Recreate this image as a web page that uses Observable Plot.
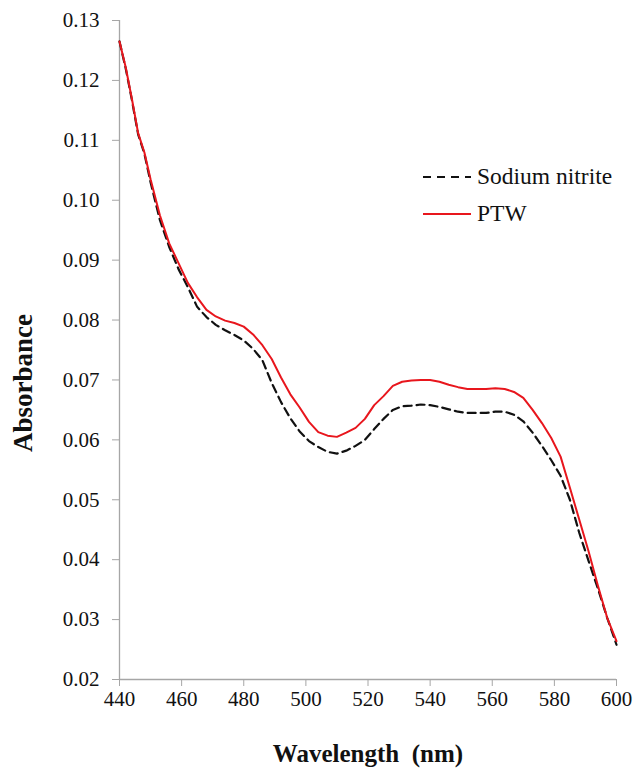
<!DOCTYPE html>
<html>
<head>
<meta charset="utf-8">
<script src="https://cdn.jsdelivr.net/npm/d3@7"></script>
<script src="https://cdn.jsdelivr.net/npm/@observablehq/plot@0.6"></script>
<style>
  body { margin: 0; background: #fff; }
  #wrap { position: relative; width: 636px; height: 769px; font-family: "Liberation Serif", "Tinos", "Times New Roman", "Times", "Nimbus Roman", "Nimbus Roman No9 L", "FreeSerif", "Noto Serif", "DejaVu Serif", serif; }
  #wrap svg text { font-family: "Liberation Serif", "Tinos", "Times New Roman", "Times", "Nimbus Roman", "Nimbus Roman No9 L", "FreeSerif", "Noto Serif", "DejaVu Serif", serif; }
  #legend { position: absolute; left: 423px; top: 158px; font-size: 23.5px; color: #111; line-height: 37px; }
  #legend .item { display: flex; align-items: center; }
  #legend svg { margin-right: 6px; }
</style>
</head>
<body>
<div id="wrap"></div>
<script>
const wavelengths = [440, 442, 444, 446, 448, 450, 453, 456, 459, 462, 465, 468, 471, 474, 477, 480, 483, 486, 489, 492, 495, 498, 501, 504, 507, 510, 513, 516, 519, 522, 525, 528, 531, 534, 537, 540, 543, 546, 549, 552, 555, 558, 561, 564, 567, 570, 573, 576, 579, 582, 585, 588, 591, 594, 597, 600];
const ptw = [0.1265, 0.1222, 0.1169, 0.1112, 0.1080, 0.1035, 0.0975, 0.0928, 0.0895, 0.0862, 0.0838, 0.0817, 0.0806, 0.0799, 0.0795, 0.0789, 0.0776, 0.0758, 0.0735, 0.0704, 0.0676, 0.0654, 0.0630, 0.0613, 0.0607, 0.0605, 0.0612, 0.0620, 0.0635, 0.0658, 0.0673, 0.0690, 0.0697, 0.0699, 0.0700, 0.0700, 0.0697, 0.0692, 0.0688, 0.0685, 0.0685, 0.0685, 0.0686, 0.0685, 0.0680, 0.0670, 0.0650, 0.0628, 0.0603, 0.0572, 0.0520, 0.0467, 0.0414, 0.0357, 0.0303, 0.0264];
const sodiumNitrite = [0.1265, 0.1220, 0.1167, 0.1110, 0.1078, 0.1030, 0.0967, 0.0922, 0.0885, 0.0855, 0.0822, 0.0805, 0.0792, 0.0783, 0.0775, 0.0766, 0.0752, 0.0733, 0.0695, 0.0663, 0.0636, 0.0614, 0.0598, 0.0588, 0.0580, 0.0577, 0.0582, 0.0590, 0.0600, 0.0618, 0.0635, 0.0650, 0.0656, 0.0657, 0.0659, 0.0658, 0.0655, 0.0651, 0.0647, 0.0645, 0.0645, 0.0645, 0.0647, 0.0647, 0.0642, 0.0631, 0.0612, 0.0590, 0.0566, 0.0540, 0.0500, 0.0445, 0.0398, 0.0352, 0.0303, 0.0258];
const seriesNames = ["Sodium nitrite", "PTW"];
const xTicks = [440, 460, 480, 500, 520, 540, 560, 580, 600];
const yTicks = [0.02, 0.03, 0.04, 0.05, 0.06, 0.07, 0.08, 0.09, 0.10, 0.11, 0.12, 0.13];
const xLabel = "Wavelength  (nm)";
const yLabel = "Absorbance";

const RED = "#e8161d";
const AXIS = "#a6a6a6";

const nitriteData = wavelengths.map((w, i) => ({w, a: sodiumNitrite[i]}));
const ptwData = wavelengths.map((w, i) => ({w, a: ptw[i]}));

const chart = Plot.plot({
  width: 636,
  height: 769,
  marginLeft: 119,
  marginRight: 20,
  marginTop: 20,
  marginBottom: 90,
  style: {fontSize: "21px", color: "#111", background: "#fff"},
  x: {domain: [440, 600]},
  y: {domain: [0.02, 0.13]},
  marks: [
    Plot.axisX({ticks: xTicks, tickSize: 7, tickPadding: 5, tickFormat: d3.format("d"), label: null, stroke: AXIS, fill: "#111"}),
    Plot.axisY({ticks: yTicks, tickSize: 7, tickPadding: 13, tickFormat: d3.format(".2f"), label: null, stroke: AXIS, fill: "#111"}),
    Plot.ruleX([440], {stroke: AXIS, strokeWidth: 1.3}),
    Plot.ruleY([0.02], {stroke: AXIS, strokeWidth: 1.3}),
    Plot.line(nitriteData, {x: "w", y: "a", stroke: "#111", strokeWidth: 2.2, strokeDasharray: "8,5"}),
    Plot.line(ptwData, {x: "w", y: "a", stroke: RED, strokeWidth: 2}),
    Plot.text([yLabel], {frameAnchor: "left", text: d => d, rotate: -90, textAnchor: "middle", lineAnchor: "middle", dx: -96, dy: 33, fontSize: 27, fontWeight: "bold", fill: "#111"}),
    Plot.text([xLabel], {frameAnchor: "bottom", text: d => d, textAnchor: "middle", lineAnchor: "middle", dy: 74, fontSize: 25, fontWeight: "bold", fill: "#111"})
  ]
});

const wrap = document.getElementById("wrap");
wrap.appendChild(chart);

const legend = document.createElement("div");
legend.id = "legend";
const styles = [{stroke: "#111", dash: "8,6", width: 2.2}, {stroke: RED, dash: null, width: 2}];
seriesNames.forEach((name, i) => {
  const item = document.createElement("div");
  item.className = "item";
  const s = styles[i];
  item.innerHTML = `<svg width="48" height="10"><line x1="0" y1="5" x2="48" y2="5" stroke="${s.stroke}" stroke-width="${s.width}" ${s.dash ? `stroke-dasharray="${s.dash}"` : ""}/></svg><span>${name}</span>`;
  legend.appendChild(item);
});
wrap.appendChild(legend);
</script>
</body>
</html>
